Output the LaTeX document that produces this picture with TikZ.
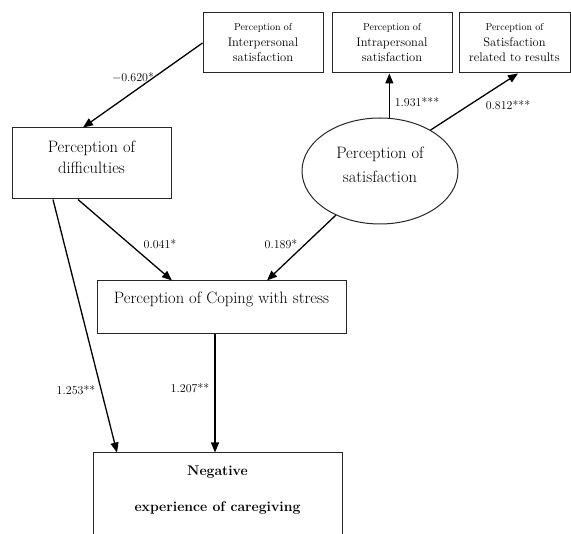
\documentclass[tikz,border=0pt]{standalone}
\usepackage{fontspec}
\usetikzlibrary{arrows.meta,shapes.geometric}
\begin{document}
\begin{tikzpicture}[x=1pt,y=-1pt,
  box/.style={draw=black!85,line width=1pt,rectangle,inner sep=0pt},
  arr/.style={draw=black,line width=1.3pt,-{Triangle[length=10pt,width=8pt]}},
  lbl/.style={font=\fontsize{12}{14}\selectfont,inner sep=0pt},
  txt/.style={align=center,inner sep=0pt},
  small/.style={box,txt,minimum height=60pt,font=\fontsize{12.5}{15.5}\selectfont},
  big/.style={txt,font=\fontsize{16.5}{21}\selectfont}]
\clip (0,0) rectangle (571,534);
\fill[white] (0,0) rectangle (571,534);

% top boxes
\node[small,minimum width=120pt] (inter) at (263,43)
  {{\fontsize{10}{15.5}\selectfont Perception of}\\Interpersonal\\satisfaction};
\node[small,minimum width=120pt] (intra) at (392,43)
  {{\fontsize{10}{15.5}\selectfont Perception of}\\Intrapersonal\\satisfaction};
\node[small,minimum width=111pt] (res) at (514.5,43)
  {{\fontsize{10}{15.5}\selectfont Perception of}\\Satisfaction\\related to results};

% difficulties
\node[box,minimum width=159pt,minimum height=71pt] (diff) at (91.5,163.5) {};
\node[big] (difft) at (91.5,157.5) {Perception of\\difficulties};

% satisfaction ellipse
\node[draw=black!85,line width=1pt,ellipse,minimum width=156pt,minimum height=106pt,inner sep=0pt] (sat) at (380,171) {};
\node[txt,font=\fontsize{16.5}{24}\selectfont] (satt) at (380,165) {Perception of\\satisfaction};

% coping
\node[box,minimum width=249pt,minimum height=53pt] (cope) at (221.5,307.5) {};
\node[big] (copet) at (221.5,299) {Perception of Coping with stress};

% negative
\node[box,minimum width=249pt,minimum height=110pt] (neg) at (217.5,508) {};
\node[txt,font=\fontsize{14}{36}\selectfont\bfseries] (negt) at (217.5,490) {Negative\\experience of caregiving};

% connectors
\draw[arr] (inter.west) -- ([xshift=-8.5pt]diff.north);
\draw[arr] (sat.80) -- (sat.80 |- intra.south);
\draw[arr] (sat.39) -- ([xshift=3.5pt]res.south);
\draw[arr] ([xshift=-13.5pt]diff.south) -- ([xshift=-49.5pt]cope.north);
\draw[arr] (sat.225) -- ([xshift=45.5pt]cope.north);
\coordinate (m) at ([xshift=-6.5pt]cope.south);
\draw[arr] (m) -- (m |- neg.north);
\draw[arr] ([xshift=-38.5pt]diff.south) -- ([xshift=-100.5pt]neg.north);

% labels
\node[lbl] (l1) at (133,78) {$-$0.620*};
\node[lbl] (l2) at (417,102) {1.931***};
\node[lbl] (l3) at (508,105) {0.812***};
\node[lbl] (l4) at (160,244) {0.041*};
\node[lbl] (l5) at (281,244) {0.189*};
\node[lbl] (l6) at (190,388) {1.207**};
\node[lbl] (l7) at (76,390) {1.253**};
\end{tikzpicture}
\end{document}
